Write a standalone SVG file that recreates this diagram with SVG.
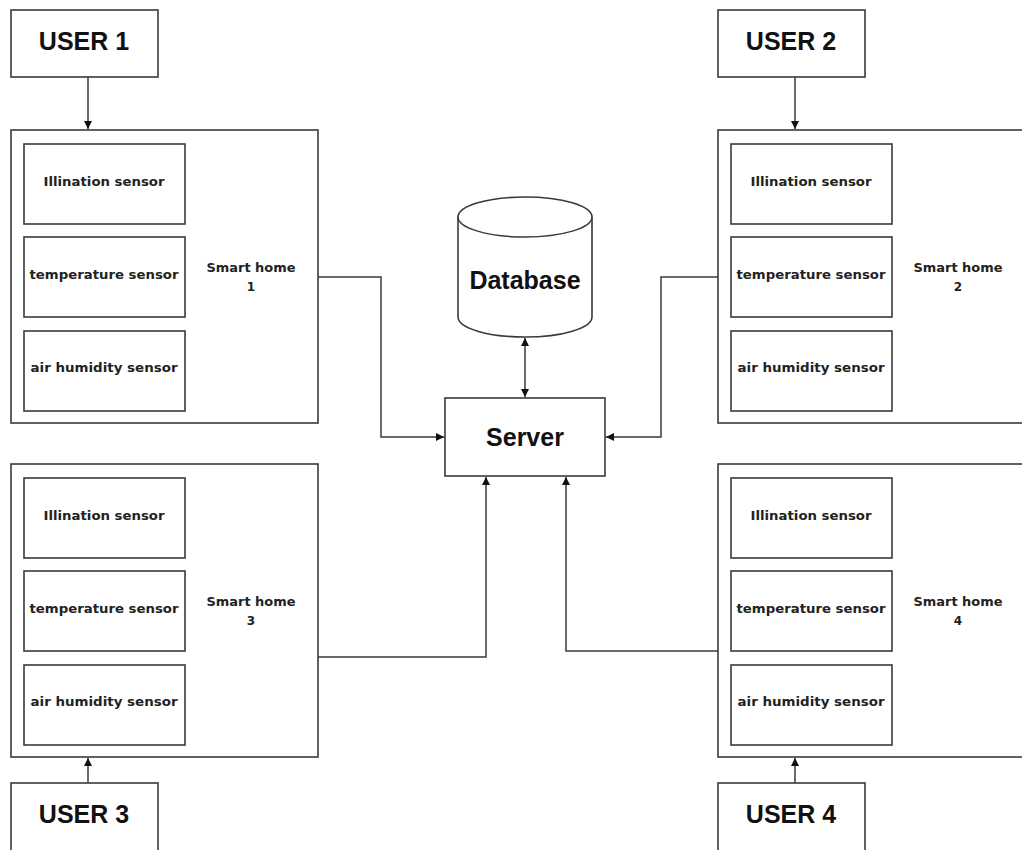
<svg xmlns="http://www.w3.org/2000/svg" width="1022" height="850" viewBox="0 0 1022 850">
<defs>
<marker id="arr" viewBox="0 0 10 10" refX="10" refY="5" markerWidth="8" markerHeight="8" markerUnits="userSpaceOnUse" orient="auto-start-reverse">
<path d="M0,0 L10,5 L0,10 z" fill="#111"/>
</marker>
<style>
.box{fill:#fff;stroke:#3a3a3a;stroke-width:1.6}
.con{fill:none;stroke:#3a3a3a;stroke-width:1.5}
.big{font-family:"Liberation Sans",Arial,sans-serif;font-size:25px;font-weight:bold;fill:#111;text-anchor:middle}
.sm{font-family:"DejaVu Sans",Verdana,sans-serif;font-size:12px;font-weight:bold;fill:#222;text-anchor:middle}
</style>
</defs>
<rect width="1022" height="850" fill="#fff"/>

<g id="connectors">
<path class="con" d="M88,77 V129" marker-end="url(#arr)"/>
<path class="con" d="M795,77 V129" marker-end="url(#arr)"/>
<path class="con" d="M88,783 V758" marker-end="url(#arr)"/>
<path class="con" d="M795,783 V758" marker-end="url(#arr)"/>
<path class="con" d="M318,277 H381 V437 H444" marker-end="url(#arr)"/>
<path class="con" d="M718,277 H661 V437 H606" marker-end="url(#arr)"/>
<path class="con" d="M318,657 H486 V477" marker-end="url(#arr)"/>
<path class="con" d="M718,651 H566 V477" marker-end="url(#arr)"/>
<path class="con" d="M525,338 V397" marker-start="url(#arr)" marker-end="url(#arr)"/>
</g>

<g id="user1"><rect class="box" x="11" y="10" width="147" height="67"/><text class="big" x="84" y="50">USER 1</text></g>
<g id="user2"><rect class="box" x="718" y="10" width="147" height="67"/><text class="big" x="791" y="50">USER 2</text></g>
<g id="user3"><rect class="box" x="11" y="783" width="147" height="70"/><text class="big" x="84" y="823">USER 3</text></g>
<g id="user4"><rect class="box" x="718" y="783" width="147" height="70"/><text class="big" x="791" y="823">USER 4</text></g>

<g id="smarthome1">
<rect class="box" x="11" y="130" width="307" height="293"/>
<rect class="box" x="24" y="144" width="161" height="80"/><text class="sm" x="104" y="186" textLength="121" lengthAdjust="spacingAndGlyphs">Illination sensor</text>
<rect class="box" x="24" y="237" width="161" height="80"/><text class="sm" x="104" y="279" textLength="149" lengthAdjust="spacingAndGlyphs">temperature sensor</text>
<rect class="box" x="24" y="331" width="161" height="80"/><text class="sm" x="104" y="372" textLength="147" lengthAdjust="spacingAndGlyphs">air humidity sensor</text>
<text class="sm" x="251" y="272" textLength="89" lengthAdjust="spacingAndGlyphs">Smart home</text><text class="sm" x="251" y="291">1</text>
</g>

<g id="smarthome2">
<rect class="box" x="718" y="130" width="307" height="293"/>
<rect class="box" x="731" y="144" width="161" height="80"/><text class="sm" x="811" y="186" textLength="121" lengthAdjust="spacingAndGlyphs">Illination sensor</text>
<rect class="box" x="731" y="237" width="161" height="80"/><text class="sm" x="811" y="279" textLength="149" lengthAdjust="spacingAndGlyphs">temperature sensor</text>
<rect class="box" x="731" y="331" width="161" height="80"/><text class="sm" x="811" y="372" textLength="147" lengthAdjust="spacingAndGlyphs">air humidity sensor</text>
<text class="sm" x="958" y="272" textLength="89" lengthAdjust="spacingAndGlyphs">Smart home</text><text class="sm" x="958" y="291">2</text>
</g>

<g id="smarthome3">
<rect class="box" x="11" y="464" width="307" height="293"/>
<rect class="box" x="24" y="478" width="161" height="80"/><text class="sm" x="104" y="520" textLength="121" lengthAdjust="spacingAndGlyphs">Illination sensor</text>
<rect class="box" x="24" y="571" width="161" height="80"/><text class="sm" x="104" y="613" textLength="149" lengthAdjust="spacingAndGlyphs">temperature sensor</text>
<rect class="box" x="24" y="665" width="161" height="80"/><text class="sm" x="104" y="706" textLength="147" lengthAdjust="spacingAndGlyphs">air humidity sensor</text>
<text class="sm" x="251" y="606" textLength="89" lengthAdjust="spacingAndGlyphs">Smart home</text><text class="sm" x="251" y="625">3</text>
</g>

<g id="smarthome4">
<rect class="box" x="718" y="464" width="307" height="293"/>
<rect class="box" x="731" y="478" width="161" height="80"/><text class="sm" x="811" y="520" textLength="121" lengthAdjust="spacingAndGlyphs">Illination sensor</text>
<rect class="box" x="731" y="571" width="161" height="80"/><text class="sm" x="811" y="613" textLength="149" lengthAdjust="spacingAndGlyphs">temperature sensor</text>
<rect class="box" x="731" y="665" width="161" height="80"/><text class="sm" x="811" y="706" textLength="147" lengthAdjust="spacingAndGlyphs">air humidity sensor</text>
<text class="sm" x="958" y="606" textLength="89" lengthAdjust="spacingAndGlyphs">Smart home</text><text class="sm" x="958" y="625">4</text>
</g>

<g id="database">
<path class="box" d="M458,217 A67,20 0 0 1 592,217 V317 A67,20 0 0 1 458,317 Z"/>
<path class="con" d="M458,217 A67,20 0 0 0 592,217"/>
<text class="big" x="525" y="289">Database</text>
</g>

<g id="server">
<rect class="box" x="445" y="398" width="160" height="78"/>
<text class="big" x="525" y="446">Server</text>
</g>
</svg>
